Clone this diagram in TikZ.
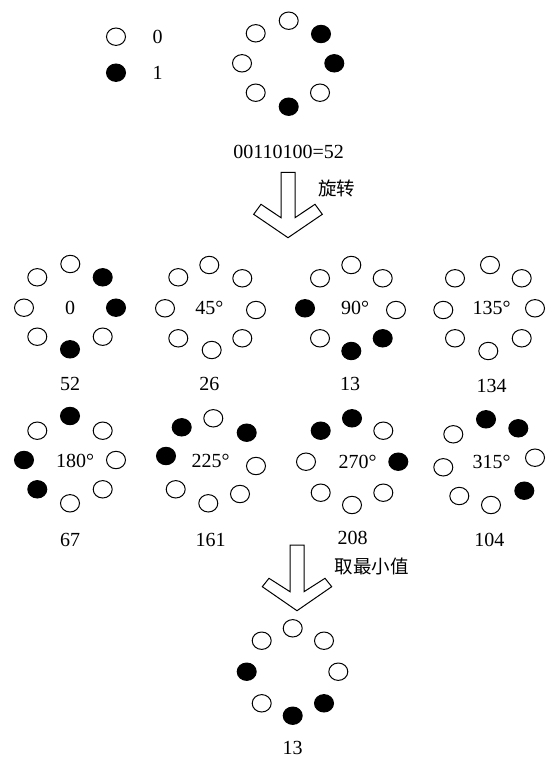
\documentclass[tikz,border=0pt]{standalone}
\usepackage{fontspec}
\setmainfont{Liberation Serif}
\newfontfamily\cjk{Noto Sans CJK SC}

\begin{document}
\begin{tikzpicture}[x=1pt,y=-1pt,line width=1pt,
    off/.style={draw=black},
    on/.style={draw=black,fill=black},
    lbl/.style={inner sep=0pt,font=\fontsize{20}{24}\selectfont},
    zh/.style={inner sep=0pt,font=\cjk\fontsize{18.5}{22}\selectfont},
    bigarrow/.style={draw=black,fill=white,line join=miter}]
  \useasboundingbox (0,0) rectangle (549,758);

  % legend
  \draw[off] (116,36.7) ellipse [x radius=9.5,y radius=8.7];
  \draw[on] (116,72.7) ellipse [x radius=9.5,y radius=8.7];
  \node[lbl] (key0) at (157.7,36.7) {0};
  \node[lbl] (key1) at (157.7,72.7) {1};

  % pattern
  \foreach \x/\y/\s in {288.7/20.7/off, 321/34/on, 334.3/63.3/on, 320/92.7/off,
      288.7/106.7/on, 255.7/92.7/off, 242/63.3/off, 255.7/33.3/off}
    \draw[\s] (\x,\y) ellipse [x radius=9.5,y radius=8.7];
  \node[lbl] (code) at (288.7,152) {00110100=52};

  % rotate
  \draw[bigarrow] (281,172.3) -- (295,172.3) -- (295,217.7) -- (315,204.3) -- (322.3,214.3)
    -- (288,237.7) -- (253.7,214.3) -- (261,204.3) -- (281,217.7) -- cycle;
  \node[zh] (rot) at (336.7,188.3) {旋转};

  % row 1
  \foreach \x/\y/\s in {70.3/264/off, 102.7/277.3/on, 116/307.7/on, 102.7/336.7/off,
      70/349.3/on, 37.3/336.7/off, 24/307.7/off, 37.3/277.3/off}
    \draw[\s] (\x,\y) ellipse [x radius=9.5,y radius=8.7];
  \foreach \x/\y/\s in {209.3/265/off, 242.3/278.3/off, 256/310/off, 242.3/338.3/off,
      211.7/350/off, 178.3/338.3/off, 165/308.3/off, 178.3/277.3/off}
    \draw[\s] (\x,\y) ellipse [x radius=9.5,y radius=8.7];
  \foreach \x/\y/\s in {351.3/265/off, 382.7/278.3/off, 396/310/off, 382.7/338.3/on,
      351.3/351/on, 320/338.3/off, 305/308.3/on, 320/278.3/off}
    \draw[\s] (\x,\y) ellipse [x radius=9.5,y radius=8.7];
  \foreach \x/\y/\s in {490/265/off, 521.7/278.3/off, 535/308.3/off, 521.7/338.3/off,
      488.3/351/off, 455/338.3/off, 443.3/310/off, 455/278.3/off}
    \draw[\s] (\x,\y) ellipse [x radius=9.5,y radius=8.7];
  \node[lbl] (ang0) at (70,308.3) {0};
  \node[lbl] (ang45) at (209.3,308.3) {45°};
  \node[lbl] (ang90) at (355,308.3) {90°};
  \node[lbl] (ang135) at (491.7,308.3) {135°};
  \node[lbl] (val52) at (70,384) {52};
  \node[lbl] (val26) at (209.3,384) {26};
  \node[lbl] (val13) at (350,384) {13};
  \node[lbl] (val134) at (491.7,386) {134};

  % row 2
  \foreach \x/\y/\s in {70/416/on, 102.7/430.7/off, 116/460/off, 102.7/489.3/off,
      70/503.3/off, 37.3/489.3/on, 24/460/on, 37.3/430.7/off}
    \draw[\s] (\x,\y) ellipse [x radius=9.5,y radius=8.7];
  \foreach \x/\y/\s in {213.3/418.3/off, 246.7/432.7/on, 256/466/off, 240/494/off,
      208.3/503.3/off, 175.7/489.3/off, 166/456/on, 181.7/427.3/on}
    \draw[\s] (\x,\y) ellipse [x radius=9.5,y radius=8.7];
  \foreach \x/\y/\s in {352/418.3/on, 383.3/430.7/off, 398.3/461.7/on, 383.3/492.7/off,
      352/505/off, 320.7/492.7/off, 306/461.7/off, 320.7/430.7/on}
    \draw[\s] (\x,\y) ellipse [x radius=9.5,y radius=8.7];
  \foreach \x/\y/\s in {486/419.3/on, 518.3/428.3/on, 535/457.7/off, 524.3/490.7/on,
      491/505/off, 459.3/496/off, 443.3/467.3/off, 453.3/434.3/off}
    \draw[\s] (\x,\y) ellipse [x radius=9.5,y radius=8.7];
  \node[lbl] (ang180) at (75,461) {180°};
  \node[lbl] (ang225) at (210.7,461) {225°};
  \node[lbl] (ang270) at (357.7,461.7) {270°};
  \node[lbl] (ang315) at (491.7,461.7) {315°};
  \node[lbl] (val67) at (70,540) {67};
  \node[lbl] (val161) at (210.7,540) {161};
  \node[lbl] (val208) at (352.7,538.3) {208};
  \node[lbl] (val104) at (489.3,540) {104};

  % take minimum
  \draw[bigarrow] (290,545) -- (304,545) -- (304,591.7) -- (325,578.3) -- (331.7,586.7)
    -- (297,610.7) -- (262.3,586.7) -- (269,578.3) -- (290,591.7) -- cycle;
  \node[zh] (minval) at (371.7,566.7) {取最小值};

  % result
  \foreach \x/\y/\s in {292.7/628.3/off, 324/640.7/off, 338.3/671.7/off, 324/703.3/on,
      292.7/715.7/on, 261.7/703.3/off, 246.7/671.7/on, 261.7/640.7/off}
    \draw[\s] (\x,\y) ellipse [x radius=9.5,y radius=8.7];
  \node[lbl] (result) at (292.7,747.8) {13};
\end{tikzpicture}
\end{document}
